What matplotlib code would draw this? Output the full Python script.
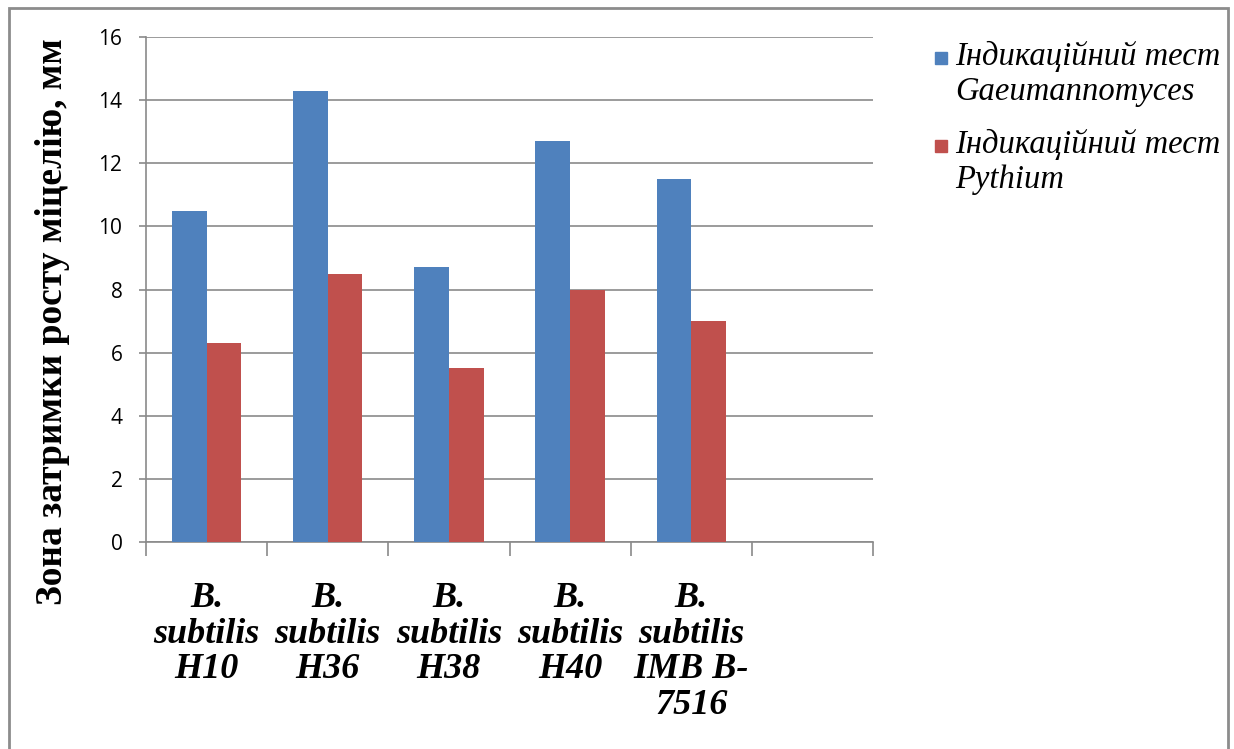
import matplotlib.pyplot as plt
import numpy as np
from matplotlib.patches import Rectangle

# Strains and zone sizes (mm)
strains = ["B.\nsubtilis\nH10", "B.\nsubtilis\nH36", "B.\nsubtilis\nH38",
           "B.\nsubtilis\nH40", "B.\nsubtilis\nIMB B-\n7516"]
gaeumannomyces = [10.5, 14.3, 8.7, 12.7, 11.5]
pythium = [6.3, 8.5, 5.5, 8.0, 7.0]
series_names = ["Індикаційний тест\nGaeumannomyces", "Індикаційний тест\nPythium"]
series_colors = ["#4F81BD", "#C0504D"]
n_slots = 6  # one empty category at the end

plt.rcParams["font.serif"] = ["Liberation Serif", "DejaVu Serif"]

fig = plt.figure(figsize=(12.34, 7.49), dpi=100)
ax = fig.add_axes([146 / 1234, 1 - 542 / 749, (873 - 146) / 1234, (542 - 37) / 749])

# outer frame
fig.patches.append(Rectangle((9 / 1234, -0.05), (1228 - 9) / 1234, 1.05 - 8 / 749,
                             transform=fig.transFigure, fill=False,
                             edgecolor="#8c8c8c", linewidth=2))

w = 1 / 3.5
x = np.arange(len(strains)) + 0.5
ax.bar(x - w / 2, gaeumannomyces, width=w, color=series_colors[0], zorder=3)
ax.bar(x + w / 2, pythium, width=w, color=series_colors[1], zorder=3)

ax.set_xlim(0, n_slots)
ax.set_ylim(0, 16)
ax.set_yticks(np.arange(0, 17, 2))
ax.yaxis.grid(True, color="#8a8a8a", linewidth=1.2, zorder=0)
ax.set_axisbelow(True)

for s in ["top", "right"]:
    ax.spines[s].set_visible(False)
for s in ["left", "bottom"]:
    ax.spines[s].set_color("#8a8a8a")
    ax.spines[s].set_linewidth(1.2)

# category boundary ticks, labels centered in slots
ax.set_xticks(np.arange(n_slots + 1))
ax.set_xticklabels([])
ax.tick_params(axis="x", length=10, color="#8a8a8a", width=1.2)
ax.tick_params(axis="y", length=5, color="#8a8a8a", width=1.2, labelsize=15, pad=12)
for lbl in ax.get_yticklabels():
    lbl.set_fontfamily("Open Sans")

for xi, name in zip(x, strains):
    ax.text(xi, -0.08, name, transform=ax.get_xaxis_transform(), ha="center", va="top",
            fontsize=26, family="serif", fontweight="bold",
            fontstyle="italic", linespacing=1.1)

fig.text(53 / 1234, 1 - 322 / 749, "Зона затримки росту міцелію, мм", rotation=90,
         ha="center", va="center", fontsize=27, family="serif", fontweight="bold")

# legend: square marker beside the first line of each entry
legend_y = [58, 146]
for name, color, py in zip(series_names, series_colors, legend_y):
    fig.patches.append(Rectangle((935 / 1234, 1 - (py + 6) / 749), 12 / 1234, 12 / 749,
                                 transform=fig.transFigure, color=color))
    fig.text(955 / 1234, 1 - (py - 17) / 749, name, ha="left", va="top", fontsize=23.5,
             family="serif", fontstyle="italic", linespacing=1.2)

fig.savefig("out.png", dpi=100)
